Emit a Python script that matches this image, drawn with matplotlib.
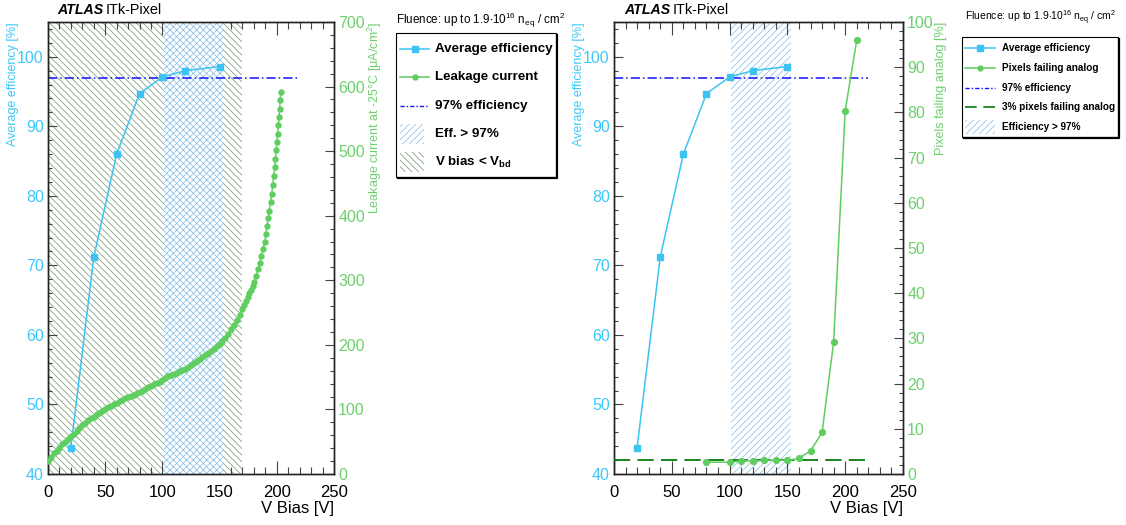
import matplotlib
matplotlib.use('Agg')
import matplotlib.pyplot as plt
from matplotlib.ticker import MultipleLocator
from matplotlib.patches import Rectangle

plt.rcParams['font.family'] = ['Liberation Sans', 'DejaVu Sans']
plt.rcParams['mathtext.fontset'] = 'custom'
plt.rcParams['mathtext.rm'] = 'Liberation Sans'
plt.rcParams['mathtext.it'] = 'Liberation Sans:italic'
plt.rcParams['mathtext.bf'] = 'Liberation Sans:bold'
plt.rcParams['hatch.linewidth'] = 0.5

# ---------------- data ----------------
eff_bias = [20, 40, 60, 80, 100, 120, 150]
eff_values = [43.8, 71.2, 86.0, 94.7, 97.1, 98.0, 98.6]

leak_bias = [0, 2.5, 5, 7.5, 10, 12.5, 15, 17.5, 20, 22.5, 25, 27.5, 30, 32.5, 35, 37.5,
             40, 42.5, 45, 47.5, 50, 52.5, 55, 57.5, 60, 62.5, 65, 67.5, 70, 72.5, 75, 77.5,
             80, 82.5, 85, 87.5, 90, 92.5, 95, 97.5, 100, 102.5, 105, 107.5, 110, 112.5, 115,
             117.5, 120, 122.5, 125, 127.5, 130, 132.5, 135, 137.5, 140, 142.5, 145, 147.5,
             150, 152.5, 155, 157.5, 160, 162.5, 165, 167.5, 170,
             171.5, 173, 174.5, 176, 177.5, 179, 180.5, 182, 183.5, 185, 186.5, 188, 189.5,
             190.5, 191.5, 192.5, 193.5, 194.5, 195.5, 196.5, 197.3, 198, 198.8, 199.5, 200,
             200.7, 201.3, 202, 202.5, 203, 203.4]
leak_current = [20, 27, 32, 36, 41, 46, 50, 54, 59, 62, 67, 72, 76, 79, 83, 86,
                89, 93, 95, 98, 101, 103, 106, 108, 110, 113, 115, 117, 119, 121, 123, 125,
                127, 129, 132, 134, 136, 139, 141, 143, 146, 149, 151, 153, 155, 157, 159,
                161, 163, 166, 169, 172, 175, 178, 181, 184, 187, 191, 194, 198,
                202, 206, 211, 217, 224, 231, 238, 247, 256,
                262, 268, 274, 280, 285, 291, 298, 307, 317, 327, 338, 349, 360,
                372, 384, 396, 408, 421, 434, 448, 462, 475, 488, 501, 514,
                527, 540, 553, 566, 579, 592]

fail_bias = [80, 100, 110, 120, 130, 140, 150, 160, 170, 180, 190, 200, 210]
fail_values = [2.6, 2.6, 2.9, 2.9, 3.0, 3.1, 3.0, 3.5, 5.1, 9.2, 29.2, 80.4, 96.0]

eff_threshold = 97.0
fail_threshold = 3.0
eff_region = (101, 153)
vbd_region = (0, 170)
ref_line_end = 220

# ---------------- styles ----------------
C_EFF = '#3cc3f2'
C_EFF_LAB = '#3cc8f8'
C_LEAK = '#5fcd60'
C_LEAK_LAB = '#6cd06c'
C_97 = '#1010ff'
C_3 = '#0a7a0a'
C_HATCH_G = '#6f946f'
C_HATCH_B = '#80bde9'

W, H = 1126, 525
fig = plt.figure(figsize=(W / 100, H / 100), dpi=100)


def fx(x):
    return x / W


def fy(y):
    return 1 - y / H


TICK_FS = 11.5


def style_axes(ax, ax2, right_major, right_minor):
    ax.set_xlim(0, 250)
    ax.set_ylim(40, 105)
    ax.xaxis.set_major_locator(MultipleLocator(50))
    ax.xaxis.set_minor_locator(MultipleLocator(10))
    ax.yaxis.set_major_locator(MultipleLocator(10))
    ax.yaxis.set_minor_locator(MultipleLocator(2))
    ax.tick_params(axis='x', which='both', direction='in', top=True, bottom=True,
                   labelsize=12, pad=8, width=0.8, color='#444444')
    ax.tick_params(axis='x', which='major', length=9.5)
    ax.tick_params(axis='x', which='minor', length=4.8)
    ax.tick_params(axis='y', which='both', direction='in', left=True, right=False,
                   labelsize=TICK_FS, labelcolor=C_EFF_LAB, width=0.8, color='#444444', pad=3)
    ax.tick_params(axis='y', which='major', length=6.2)
    ax.tick_params(axis='y', which='minor', length=3.1)
    ax2.yaxis.set_major_locator(MultipleLocator(right_major))
    ax2.yaxis.set_minor_locator(MultipleLocator(right_minor))
    ax2.tick_params(axis='y', which='both', direction='in', right=True, left=False,
                    labelsize=TICK_FS, labelcolor=C_LEAK_LAB, width=0.8, color='#444444', pad=3)
    ax2.tick_params(axis='y', which='major', length=6.2)
    ax2.tick_params(axis='y', which='minor', length=3.1)
    for a in (ax, ax2):
        for s in a.spines.values():
            s.set_linewidth(1.0)
            s.set_color('#222222')


# ================= left panel =================
axL = fig.add_axes([fx(48), fy(474), fx(334) - fx(48), fy(22) - fy(474)])
axL2 = axL.twinx()
axL.axvspan(*vbd_region, facecolor='none', edgecolor=C_HATCH_G, hatch='\\\\\\\\\\', linewidth=0, zorder=1)
axL.axvspan(*eff_region, facecolor='white', edgecolor=C_HATCH_B, hatch='xxxxx', linewidth=0, zorder=2)
axL.plot([0, ref_line_end], [eff_threshold, eff_threshold], color=C_97, lw=1.1,
         linestyle=(0, (6, 2, 1, 2)), zorder=3)
axL.plot(eff_bias, eff_values, color=C_EFF, lw=1.1, marker='s', markersize=5, zorder=5)
axL2.plot(leak_bias, leak_current, color=C_LEAK, lw=1.0, marker='o', markersize=4.6,
          markeredgewidth=0, zorder=4)
axL2.set_ylim(0, 700)
style_axes(axL, axL2, 100, 20)

# ================= right panel =================
axR = fig.add_axes([fx(614), fy(474), fx(903) - fx(614), fy(22) - fy(474)])
axR2 = axR.twinx()
axR.axvspan(*eff_region, facecolor='none', edgecolor=C_HATCH_B, hatch='/////', linewidth=0, zorder=1)
axR.plot([0, ref_line_end], [eff_threshold, eff_threshold], color=C_97, lw=1.1,
         linestyle=(0, (6, 2, 1, 2)), zorder=3)
axR.plot(eff_bias, eff_values, color=C_EFF, lw=1.1, marker='s', markersize=5, zorder=5)
axR2.plot([0, ref_line_end], [fail_threshold, fail_threshold], color=C_3, lw=1.3,
          linestyle=(0, (9, 4)), zorder=3)
axR2.plot(fail_bias, fail_values, color=C_LEAK, lw=1.1, marker='o', markersize=5.2,
          markeredgewidth=0, zorder=4)
axR2.set_ylim(0, 100)
style_axes(axR, axR2, 10, 2)

# ================= axis titles =================
for x0, x1, rlab, rx in [(48, 334, 'Leakage current at -25°C [μA/cm$^2$]', 375),
                          (614, 903, 'Pixels failing analog [%]', 941)]:
    fig.text(fx(x0 - 35), fy(22), 'Average efficiency [%]', rotation=90, va='top', ha='center',
             color=C_EFF_LAB, fontsize=9)
    fig.text(fx(rx), fy(22), rlab, rotation=90, va='top', ha='center',
             color=C_LEAK_LAB, fontsize=9)
    fig.text(fx(x1), fy(508), 'V Bias [V]', ha='right', va='center', fontsize=12)

# ATLAS labels
for x in (57, 624):
    fig.text(fx(x), fy(10), 'ATLAS', fontsize=10.2, weight='bold', style='italic', va='center')
    fig.text(fx(x + 49), fy(10), 'ITk-Pixel', fontsize=10.4, va='center')

# ================= legends (overlay in pixel coords) =================
ov = fig.add_axes([0, 0, 1, 1], zorder=10)
ov.set_xlim(0, W)
ov.set_ylim(H, 0)
ov.axis('off')
ov.patch.set_alpha(0)

flu = r'Fluence: up to 1.9$\cdot$10$^{16}$ n$_{\rm eq}$ / cm$^2$'
fig.text(fx(396), fy(20), flu, fontsize=8.4, va='center', ha='left')
fig.text(fx(965), fy(18), flu, fontsize=7.5, va='center', ha='left')


def legend_box(x0, y0, x1, y1):
    ov.add_patch(Rectangle((x0, y0), x1 - x0, y1 - y0, facecolor='white', edgecolor='black', lw=0.8))
    ov.plot([x0 + 2, x1 + 1, x1 + 1], [y1 + 1, y1 + 1, y0 + 2], color='black', lw=1.6)


# left legend
legend_box(396, 33, 556, 177)
rows = [49, 77, 106, 134, 162]
lx0, lx1, tx = 400, 429, 435
ov.plot([lx0, lx1], [rows[0]] * 2, color=C_EFF, lw=1.1)
ov.plot([(lx0 + lx1) / 2], [rows[0]], 's', color=C_EFF, markersize=5)
ov.plot([lx0, lx1], [rows[1]] * 2, color=C_LEAK, lw=1.1)
ov.plot([(lx0 + lx1) / 2], [rows[1]], 'o', color=C_LEAK, markersize=4.6, markeredgewidth=0)
ov.plot([lx0, lx1], [rows[2]] * 2, color=C_97, lw=1.0, linestyle=(0, (3, 1.5, 1, 1.5)))
ov.add_patch(Rectangle((lx0, rows[3] - 10), 24, 20, facecolor='white', edgecolor=C_HATCH_B,
                       hatch='/////', lw=0))
ov.add_patch(Rectangle((lx0, rows[4] - 10), 24, 20, facecolor='white', edgecolor=C_HATCH_G,
                       hatch='\\\\\\\\\\', lw=0))
labsL = ['Average efficiency', 'Leakage current', '97% efficiency', 'Eff. > 97%',
         r'V bias < V$_{\mathbf{bd}}$']
for r, t in zip(rows, labsL):
    ov.text(tx, r, t, fontsize=9.6, weight='bold', va='center', ha='left')

# right legend
legend_box(962, 37, 1118, 137)
rows = [48, 68, 88, 107, 127]
lx0, lx1, tx = 965, 995, 1002
ov.plot([lx0, lx1], [rows[0]] * 2, color=C_EFF, lw=1.1)
ov.plot([(lx0 + lx1) / 2], [rows[0]], 's', color=C_EFF, markersize=4.5)
ov.plot([lx0, lx1], [rows[1]] * 2, color=C_LEAK, lw=1.1)
ov.plot([(lx0 + lx1) / 2], [rows[1]], 'o', color=C_LEAK, markersize=4.5, markeredgewidth=0)
ov.plot([lx0, lx1], [rows[2]] * 2, color=C_97, lw=1.0, linestyle=(0, (3, 1.5, 1, 1.5)))
ov.plot([lx0, lx1], [rows[3]] * 2, color=C_3, lw=1.2, linestyle=(0, (7, 4)))
ov.add_patch(Rectangle((lx0, rows[4] - 7), 30, 14, facecolor='white', edgecolor=C_HATCH_B,
                       hatch='/////', lw=0))
labsR = ['Average efficiency', 'Pixels failing analog', '97% efficiency',
         '3% pixels failing analog', 'Efficiency > 97%']
for r, t in zip(rows, labsR):
    ov.text(tx, r, t, fontsize=7.2, weight='bold', va='center', ha='left')

fig.savefig('out.png', dpi=100)
